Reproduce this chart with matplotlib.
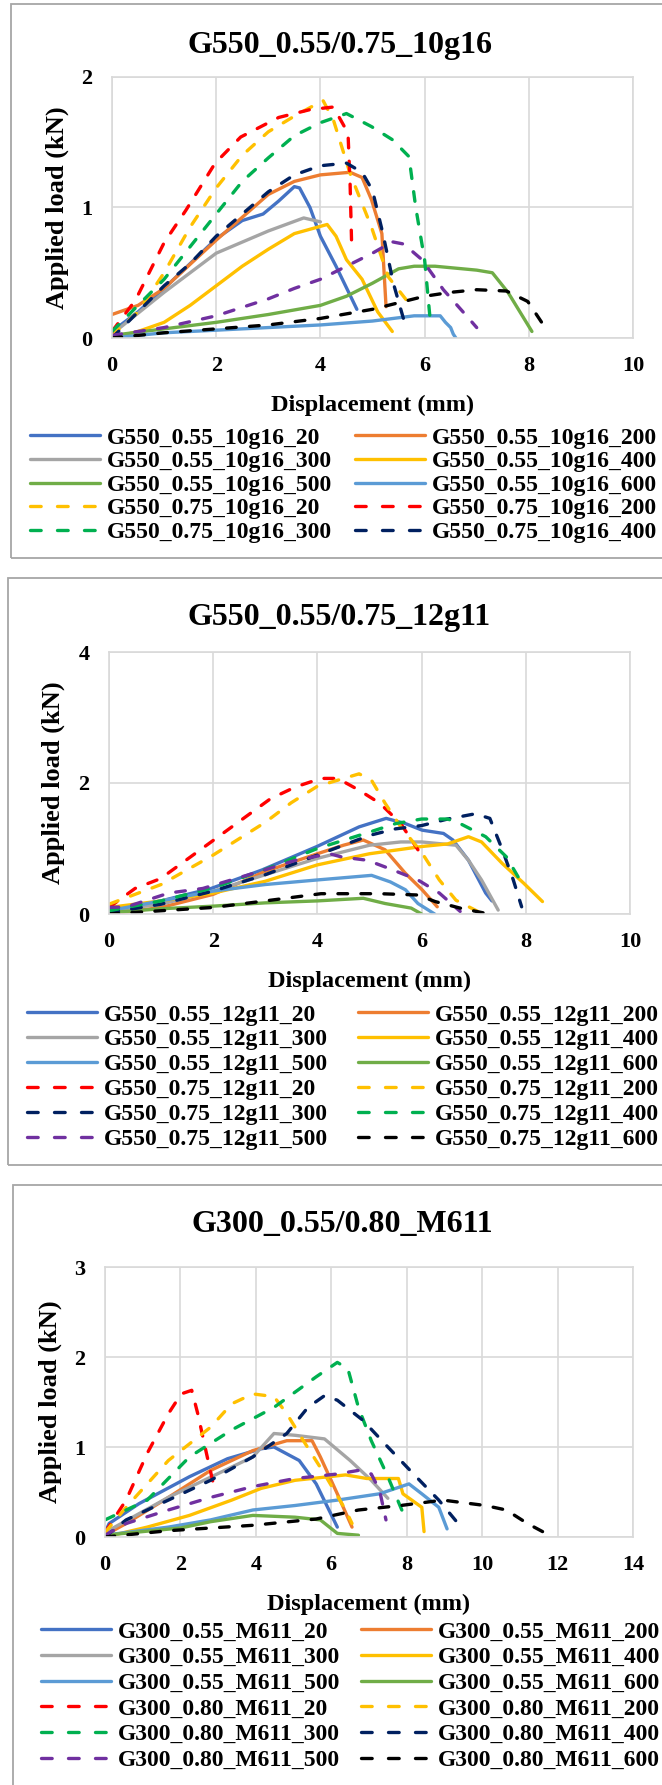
import matplotlib
matplotlib.use("Agg")
import matplotlib.pyplot as plt
from matplotlib.patches import Rectangle
from matplotlib.lines import Line2D

W, H = 662, 1785
plt.rcParams["font.family"] = ["Liberation Serif", "DejaVu Serif"]
plt.rcParams["font.weight"] = "bold"

BLUE, ORANGE, GRAY, YELLOW = "#4472C4", "#ED7D31", "#A5A5A5", "#FFC000"
LBLUE, GREEN, RED, DGREEN = "#5B9BD5", "#70AD47", "#FF0000", "#00B050"
NAVY, PURPLE, BLACK = "#002060", "#7030A0", "#000000"

# ---- panel 1: G550_0.55/0.75_10g16 ----
P1_LABELS = ["G550_0.55_10g16_20", "G550_0.55_10g16_200", "G550_0.55_10g16_300",
             "G550_0.55_10g16_400", "G550_0.55_10g16_500", "G550_0.55_10g16_600",
             "G550_0.75_10g16_20", "G550_0.75_10g16_200", "G550_0.75_10g16_300",
             "G550_0.75_10g16_400", "G550_0.75_10g16_500", "G550_0.75_10g16_600"]
P1_X = [
    [0, 0.5, 1, 1.5, 2, 2.5, 2.9, 3.2, 3.5, 3.6, 3.8, 4.0, 4.3, 4.7],
    [0, 0.5, 1, 2, 3, 3.5, 4, 4.57, 4.8, 4.98, 5.18, 5.26],
    [0, 1, 2, 3, 3.68, 4.0],
    [0, 0.5, 1, 1.5, 2, 2.5, 3, 3.5, 4.13, 4.3, 4.5, 4.8, 5.1, 5.38],
    [0, 1, 2, 3, 4, 4.5, 5, 5.5, 5.8, 6.2, 7.0, 7.3, 7.6, 8.06],
    [0, 1, 2, 3, 4, 5, 5.8, 6.3, 6.4, 6.5, 6.55, 6.6],
    [0, 0.5, 1, 1.5, 2, 2.5, 3, 3.5, 4.05, 4.25, 4.57, 4.98, 5.3, 5.75],
    [0, 0.45, 1.0, 1.42, 1.98, 2.47, 3.2, 3.8, 4.25, 4.53, 4.57, 4.6],
    [0, 0.5, 1, 1.5, 2, 2.5, 3, 3.5, 4, 4.5, 4.98, 5.38, 5.7, 5.83, 6.0, 6.1],
    [0, 0.5, 1, 1.5, 2, 2.5, 3, 3.5, 4, 4.5, 4.8, 5.0, 5.2, 5.4, 5.6, 5.7],
    [0, 1, 2, 3, 3.5, 4, 4.5, 5, 5.22, 5.34, 5.6, 5.95, 6.36, 6.76, 7.0],
    [0, 1, 2, 3, 4, 5, 5.5, 6, 6.5, 7, 7.57, 7.98, 8.38],
]
P1_Y = [
    [0.05, 0.2, 0.38, 0.57, 0.76, 0.9, 0.95, 1.05, 1.16, 1.15, 1.0, 0.78, 0.55, 0.22],
    [0.18, 0.25, 0.38, 0.75, 1.1, 1.2, 1.25, 1.27, 1.23, 1.06, 0.8, 0.24],
    [0.03, 0.35, 0.65, 0.82, 0.92, 0.89],
    [0, 0.05, 0.12, 0.25, 0.4, 0.55, 0.68, 0.8, 0.87, 0.78, 0.6, 0.45, 0.2, 0.05],
    [0.02, 0.07, 0.12, 0.18, 0.25, 0.32, 0.42, 0.53, 0.55, 0.55, 0.52, 0.5, 0.35, 0.05],
    [0, 0.04, 0.06, 0.08, 0.1, 0.13, 0.17, 0.17, 0.12, 0.08, 0.03, 0.0],
    [0.02, 0.2, 0.5, 0.85, 1.15, 1.4, 1.58, 1.7, 1.82, 1.67, 1.26, 0.85, 0.47, 0.24],
    [0.05, 0.29, 0.73, 0.98, 1.34, 1.54, 1.69, 1.75, 1.77, 1.57, 1.18, 0.71],
    [0.05, 0.25, 0.45, 0.7, 0.95, 1.2, 1.38, 1.55, 1.65, 1.72, 1.62, 1.52, 1.39, 1.0, 0.6, 0.17],
    [0.0, 0.2, 0.4, 0.57, 0.78, 0.95, 1.12, 1.25, 1.32, 1.34, 1.27, 1.13, 0.8, 0.42, 0.14, 0.1],
    [0.02, 0.08, 0.17, 0.3, 0.38, 0.45, 0.55, 0.65, 0.7, 0.74, 0.72, 0.6, 0.37, 0.19, 0.08],
    [0, 0.04, 0.07, 0.1, 0.15, 0.22, 0.27, 0.32, 0.35, 0.37, 0.36, 0.28, 0.04],
]
P1_COLORS = [BLUE, ORANGE, GRAY, YELLOW, GREEN, LBLUE, YELLOW, RED, DGREEN, NAVY, PURPLE, BLACK]
P1_IN_LEGEND = 10   # last two curves are not listed in the legend

# ---- panel 2: G550_0.55/0.75_12g11 ----
P2_LABELS = ["G550_0.55_12g11_20", "G550_0.55_12g11_200", "G550_0.55_12g11_300",
             "G550_0.55_12g11_400", "G550_0.55_12g11_500", "G550_0.55_12g11_600",
             "G550_0.75_12g11_20", "G550_0.75_12g11_200", "G550_0.75_12g11_300",
             "G550_0.75_12g11_400", "G550_0.75_12g11_500", "G550_0.75_12g11_600"]
P2_X = [
    [0, 1, 1.96, 2.93, 3.99, 4.8, 5.32, 5.69, 6.01, 6.42, 6.6, 6.9, 7.23, 7.35],
    [0, 1, 2, 3, 4, 4.5, 4.88, 5.3, 5.69, 6.01, 6.3],
    [0, 1, 2, 3, 4, 5, 5.6, 6.0, 6.66, 6.9, 7.15, 7.47],
    [0, 1, 2, 3, 4, 5, 6, 6.5, 6.9, 7.15, 7.55, 7.96, 8.32],
    [0, 1, 2, 3, 4, 5.04, 5.4, 5.69, 5.93, 6.25],
    [0, 1, 2, 3, 4, 4.88, 5.3, 5.8, 6.0],
    [0, 0.5, 0.99, 1.96, 3.1, 3.58, 4.07, 4.39, 4.8, 5.2, 5.6, 5.93],
    [0, 1, 2, 3, 3.5, 4, 4.8, 5.04, 5.3, 5.6, 6.01, 6.34, 6.66, 7.15],
    [0, 1, 2, 3, 4, 5, 5.5, 6, 6.5, 7.03, 7.31, 7.55, 7.76, 7.92],
    [0, 1, 2, 3, 4, 5, 5.5, 6, 6.5, 6.74, 7.23, 7.63, 7.96],
    [0, 0.34, 1.15, 1.8, 2.77, 3.58, 4.23, 4.47, 4.96, 5.36, 5.93, 6.34, 6.74],
    [0, 1, 2, 3, 4.07, 5.2, 5.93, 6.26, 6.74, 7.23],
]
P2_Y = [
    [0.05, 0.2, 0.39, 0.67, 1.03, 1.33, 1.46, 1.38, 1.28, 1.23, 1.13, 0.82, 0.32, 0.2],
    [0.0, 0.1, 0.3, 0.65, 0.92, 1.05, 1.13, 0.98, 0.62, 0.37, 0.11],
    [0.05, 0.15, 0.35, 0.6, 0.85, 1.05, 1.1, 1.1, 1.05, 0.82, 0.52, 0.06],
    [0.1, 0.2, 0.32, 0.5, 0.75, 0.92, 1.03, 1.07, 1.18, 1.1, 0.77, 0.47, 0.19],
    [0.05, 0.2, 0.35, 0.45, 0.52, 0.59, 0.49, 0.37, 0.16, 0.0],
    [0.02, 0.08, 0.12, 0.17, 0.2, 0.24, 0.16, 0.09, 0.0],
    [0.1, 0.39, 0.54, 1.1, 1.76, 1.94, 2.07, 2.07, 1.89, 1.69, 1.38, 0.98],
    [0.15, 0.45, 0.9, 1.4, 1.7, 1.95, 2.14, 2.04, 1.69, 1.33, 0.93, 0.52, 0.21, 0.01],
    [0.02, 0.15, 0.35, 0.6, 0.9, 1.2, 1.3, 1.35, 1.45, 1.53, 1.46, 0.98, 0.52, 0.11],
    [0.05, 0.2, 0.4, 0.68, 1.0, 1.25, 1.38, 1.45, 1.45, 1.38, 1.18, 0.87, 0.42],
    [0.1, 0.11, 0.32, 0.39, 0.62, 0.82, 0.92, 0.87, 0.82, 0.7, 0.52, 0.32, 0.04],
    [0, 0.05, 0.1, 0.2, 0.31, 0.31, 0.29, 0.19, 0.09, 0.01],
]
P2_COLORS = [BLUE, ORANGE, GRAY, YELLOW, LBLUE, GREEN, RED, YELLOW, NAVY, DGREEN, PURPLE, BLACK]

# ---- panel 3: G300_0.55/0.80_M611 ----
P3_LABELS = ["G300_0.55_M611_20", "G300_0.55_M611_200", "G300_0.55_M611_300",
             "G300_0.55_M611_400", "G300_0.55_M611_500", "G300_0.55_M611_600",
             "G300_0.80_M611_20", "G300_0.80_M611_200", "G300_0.80_M611_300",
             "G300_0.80_M611_400", "G300_0.80_M611_500", "G300_0.80_M611_600"]
P3_X = [
    [0, 0.11, 0.9, 2.24, 3.25, 4.14, 4.48, 5.15, 5.6, 6.16],
    [0, 0.56, 1.68, 2.8, 3.92, 4.82, 5.49, 5.71, 6.16, 6.55],
    [0, 1.68, 3.92, 4.48, 5.04, 5.82, 6.5, 7.06, 7.5],
    [0, 1.12, 2.24, 3.36, 4.14, 5.04, 6.38, 6.94, 7.78, 7.9, 8.4, 8.46],
    [0, 1.68, 2.8, 3.92, 5.04, 6.16, 7.28, 8.06, 8.4, 8.85, 9.07],
    [0, 2, 2.8, 3.92, 5.04, 5.71, 6.16, 6.72],
    [0, 0.56, 1.12, 1.68, 2.02, 2.3, 2.46, 2.69, 2.91],
    [0, 0.56, 1.68, 2.8, 3.36, 3.92, 4.48, 4.82, 5.26, 5.82, 6.38, 6.55],
    [0, 1.12, 2.24, 3.36, 4.48, 5.6, 6.16, 6.44, 6.72, 7.06, 7.5, 7.95],
    [0, 0.56, 1.68, 2.8, 3.92, 4.82, 5.38, 5.82, 6.16, 6.83, 7.5, 8.18, 8.85, 9.52],
    [0, 0.56, 1.68, 2.8, 3.92, 5.04, 6.16, 6.72, 7.06, 7.28, 7.45],
    [0, 1.68, 3.92, 5.6, 6.72, 7.84, 8.96, 10.08, 10.64, 11.2, 11.87],
]
P3_Y = [
    [0.05, 0.15, 0.37, 0.67, 0.87, 0.98, 1.0, 0.85, 0.59, 0.11],
    [0.02, 0.15, 0.44, 0.74, 0.96, 1.07, 1.07, 0.89, 0.48, 0.11],
    [0.05, 0.44, 0.89, 1.15, 1.13, 1.09, 0.85, 0.63, 0.43],
    [0, 0.11, 0.24, 0.41, 0.54, 0.63, 0.69, 0.65, 0.65, 0.48, 0.33, 0.06],
    [0.02, 0.11, 0.19, 0.3, 0.35, 0.41, 0.48, 0.59, 0.48, 0.33, 0.09],
    [0.02, 0.1, 0.17, 0.24, 0.22, 0.19, 0.04, 0.02],
    [0.05, 0.41, 0.93, 1.37, 1.59, 1.63, 1.37, 0.93, 0.52],
    [0.05, 0.33, 0.85, 1.22, 1.48, 1.59, 1.56, 1.37, 1.07, 0.7, 0.3, 0.15],
    [0.19, 0.41, 0.89, 1.19, 1.44, 1.78, 1.94, 1.87, 1.44, 1.07, 0.67, 0.22],
    [0, 0.19, 0.41, 0.63, 0.89, 1.15, 1.44, 1.57, 1.52, 1.3, 1.0, 0.7, 0.41, 0.07],
    [0.02, 0.15, 0.3, 0.44, 0.56, 0.65, 0.7, 0.74, 0.7, 0.52, 0.19],
    [0, 0.07, 0.13, 0.2, 0.3, 0.35, 0.41, 0.35, 0.3, 0.15, 0],
]
P3_COLORS = [BLUE, ORANGE, GRAY, YELLOW, LBLUE, GREEN, RED, YELLOW, DGREEN, NAVY, PURPLE, BLACK]

LW = 2.4
PLOT_DASH = (0, (2.9, 4.0))
LEG_DASH = (0, (3.2, 4.9))


def fx(px):
    return px / W


def fy(py):
    return 1 - py / H


def panel(box, ax_px, title_xy, ylab_x, xmax, xstep, ymax, ystep,
          title, labels, xs, ys, colors, n_leg, leg_cols, leg_top, leg_space):
    # grey frame round the whole chart (runs off the right edge)
    x0, y0, y1 = box
    fig.add_artist(Rectangle((fx(x0), fy(y1)), 1.2, (y1 - y0) / H,
                             transform=fig.transFigure, fill=False,
                             ec="#A6A6A6", lw=1.3))
    l, t, r, b = ax_px
    ax = fig.add_axes([fx(l), fy(b), (r - l) / W, (b - t) / H])
    proxies = []
    for i, (lab, x, y, c) in enumerate(zip(labels, xs, ys, colors)):
        dashed = i >= 6
        ax.plot(x, y, color=c, lw=LW, ls=PLOT_DASH if dashed else "-",
                dash_capstyle="round", solid_capstyle="round",
                solid_joinstyle="round")
        proxies.append(Line2D([], [], color=c, lw=LW,
                              ls=LEG_DASH if dashed else "-",
                              dash_capstyle="round", solid_capstyle="round",
                              label=lab))
    ax.set_xlim(0, xmax)
    ax.set_ylim(0, ymax)
    ax.set_xticks(range(0, xmax + 1, xstep))
    ax.set_yticks(range(0, ymax + 1, ystep))
    ax.grid(True, color="#D9D9D9", lw=1.2)
    for s in ax.spines.values():
        s.set_color("#D9D9D9")
        s.set_linewidth(1.2)
    ax.tick_params(length=0, labelsize=16)
    ax.tick_params(axis="x", pad=13)
    ax.tick_params(axis="y", pad=14)
    ax.set_axisbelow(True)

    fig.text(fx(title_xy[0]), fy(title_xy[1]), title, ha="center", va="center",
             fontsize=23)
    fig.text(fx((l + r) / 2), fy(b + 67), "Displacement (mm)",
             ha="center", va="center", fontsize=17.5)
    fig.text(fx(ylab_x), fy((t + b) / 2), "Applied load (kN)", rotation=90,
             ha="center", va="center", fontsize=19)

    # legend is laid out row-wise: even entries left column, odd entries right
    hs = proxies[:n_leg]
    for col, xpos in enumerate(leg_cols):
        part = hs[col::2]
        fig.legend(part, [h.get_label() for h in part], loc="upper left",
                   bbox_to_anchor=(fx(xpos), fy(leg_top)), ncol=1,
                   frameon=False, fontsize=17, borderpad=0, borderaxespad=0,
                   handlelength=2.95, handletextpad=0.3, labelspacing=leg_space)
    return ax


fig = plt.figure(figsize=(W / 100, H / 100), dpi=100)

panel((11, 4, 558), (112, 77, 633, 338), (340, 45), 57, 10, 2, 2, 1,
      "G550_0.55/0.75_10g16", P1_LABELS, P1_X, P1_Y, P1_COLORS,
      P1_IN_LEGEND, (30, 355), 427, 0.09)
panel((8, 578, 1165), (109, 652, 630, 914), (339, 618), 53, 10, 2, 4, 2,
      "G550_0.55/0.75_12g11", P2_LABELS, P2_X, P2_Y, P2_COLORS,
      12, (27, 358), 1004, 0.145)
panel((13, 1185, 1800), (105, 1267, 633, 1537), (342, 1225), 50, 14, 2, 3, 1,
      "G300_0.55/0.80_M611", P3_LABELS, P3_X, P3_Y, P3_COLORS,
      12, (41, 361), 1621, 0.175)

plt.savefig("out.png", dpi=100)
plt.close()
print("[plot] Wrote out.png")
